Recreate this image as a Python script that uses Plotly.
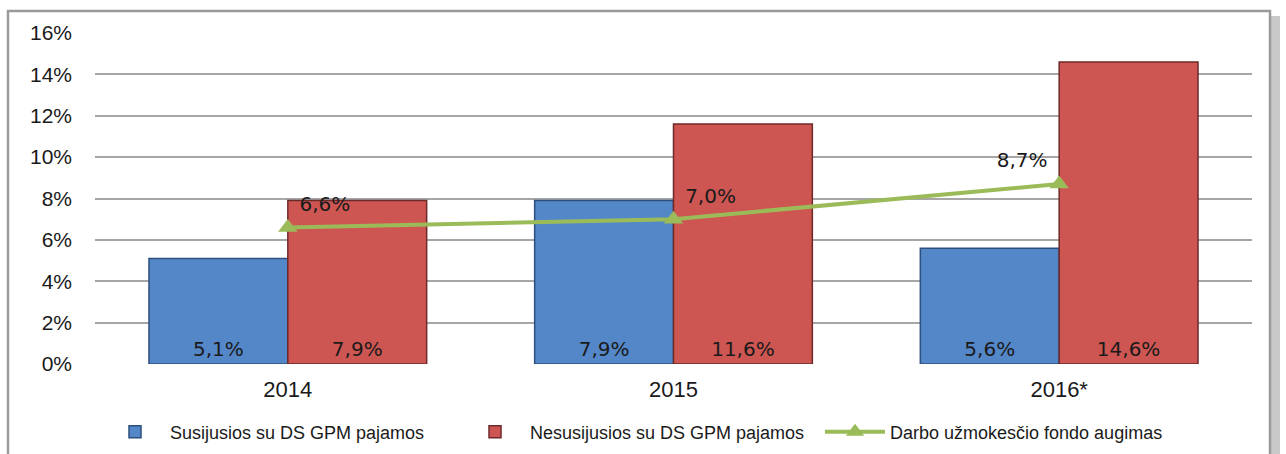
import plotly.graph_objects as go

categories = ["2014", "2015", "2016*"]
related = [5.1, 7.9, 5.6]
unrelated = [7.9, 11.6, 14.6]
wage_fund = [6.6, 7.0, 8.7]
y_ticks = [0, 2, 4, 6, 8, 10, 12, 14, 16]

def fmt(v):
    return ("%.1f" % v).replace(".", ",") + "%"

W, H = 1286, 454
L, R, T, B = 95, 34, 33, 90
pw, ph = W - L - R, H - T - B

def px_x(p):
    return (p - L) / pw

def px_y(p):
    return (H - B - p) / ph

fig = go.Figure()
fig.add_trace(go.Bar(
    x=categories, y=related, name="Susijusios su DS GPM pajamos",
    marker=dict(color="#5487c8", line=dict(color="#2c4f7e", width=1.5)),
    text=[fmt(v) for v in related], textposition="inside", insidetextanchor="start",
    textfont=dict(family="DejaVu Sans", size=20, color="#1a1a1a"),
))
fig.add_trace(go.Bar(
    x=categories, y=unrelated, name="Nesusijusios su DS GPM pajamos",
    marker=dict(color="#cd5653", line=dict(color="#6e2a28", width=1.5)),
    text=[fmt(v) for v in unrelated], textposition="inside", insidetextanchor="start",
    textfont=dict(family="DejaVu Sans", size=20, color="#1a1a1a"),
))
fig.add_trace(go.Scatter(
    x=categories, y=wage_fund, name="Darbo užmokesčio fondo augimas",
    mode="lines+markers+text",
    line=dict(color="#9bbb59", width=4),
    marker=dict(symbol="triangle-up", size=17, color="#9bbb59"),
    text=[fmt(v) for v in wage_fund],
    textposition=["top right", "top right", "top left"],
    textfont=dict(family="DejaVu Sans", size=20, color="#1a1a1a"),
))

# chart frame with shadow
fig.add_shape(type="rect", xref="paper", yref="paper",
              x0=px_x(1268), x1=px_x(1280), y0=px_y(470), y1=px_y(16),
              fillcolor="#c8c8c8", line=dict(width=0), layer="below")
fig.add_shape(type="rect", xref="paper", yref="paper",
              x0=px_x(8), x1=px_x(1270), y0=px_y(470), y1=px_y(11),
              fillcolor="white", line=dict(color="#9a9a9a", width=2.5), layer="below")

fig.update_layout(
    width=W, height=H,
    margin=dict(l=L, r=R, t=T, b=B, autoexpand=False),
    paper_bgcolor="white", plot_bgcolor="rgba(0,0,0,0)",
    barmode="group", bargap=0.28, bargroupgap=0,
    showlegend=True,
    legend=dict(orientation="h", x=px_x(100), xanchor="left", y=px_y(432), yanchor="middle",
                font=dict(family="Liberation Sans", size=18, color="#1a1a1a"),
                entrywidth=285, entrywidthmode="pixels", itemwidth=60,
                bgcolor="rgba(0,0,0,0)"),
    font=dict(family="Liberation Sans", color="#1a1a1a"),
)
fig.update_xaxes(showline=False, showgrid=False, ticks="", ticklabelstandoff=10,
                 tickfont=dict(family="Liberation Sans", size=22, color="#1a1a1a"))
fig.update_yaxes(range=[0, 16], tickvals=y_ticks, ticktext=[f"{v}%" for v in y_ticks],
                 showgrid=True, gridcolor="#a6a6a6", gridwidth=1.5, zeroline=False,
                 showline=False, ticks="", ticklabelstandoff=22,
                 tickfont=dict(family="Liberation Sans", size=21, color="#1a1a1a"))

fig.write_html("out.html", config={"displayModeBar": False},
               post_script="document.body.style.margin='0';document.body.style.overflow='hidden';")
